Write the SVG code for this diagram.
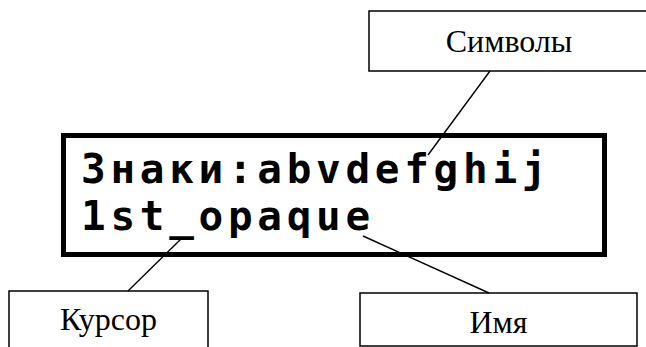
<svg xmlns="http://www.w3.org/2000/svg" width="646" height="347" viewBox="0 0 646 347">
<style>
.box{fill:#fff;stroke:#000;stroke-width:1.5}
.lbl{font-family:"Liberation Serif","Times New Roman",serif;font-size:32px;fill:#000;text-anchor:middle}
.lcd{font-family:"DejaVu Sans Mono","Liberation Mono",monospace;font-size:41px;font-weight:bold;fill:#000;letter-spacing:4.7px}
.conn{stroke:#000;stroke-width:1.4;fill:none}
</style>
<rect width="646" height="347" fill="#fff"/>
<g id="display">
<rect x="63.5" y="135.5" width="541" height="119" fill="#fff" stroke="#000" stroke-width="5"/>
<text class="lcd" x="81" y="183">Знаки:abvdefghij</text>
<text class="lcd" x="81" y="230">1st_opaque</text>
</g>
<g id="symbols">
<path class="box" d="M660 11 H369 V71 H660"/>
<text class="lbl" x="509" y="52">Символы</text>
</g>
<g id="cursor">
<path class="box" d="M9 360 V291 H208 V360"/>
<text class="lbl" x="108.5" y="330">Курсор</text>
</g>
<g id="name">
<rect class="box" x="360" y="293" width="277" height="53"/>
<text class="lbl" x="498.5" y="333">Имя</text>
</g>
<g id="connectors">
<line class="conn" x1="490" y1="71" x2="428" y2="155"/>
<line class="conn" x1="183" y1="237" x2="128" y2="291"/>
<line class="conn" x1="363" y1="236" x2="489" y2="293"/>
</g>
</svg>
